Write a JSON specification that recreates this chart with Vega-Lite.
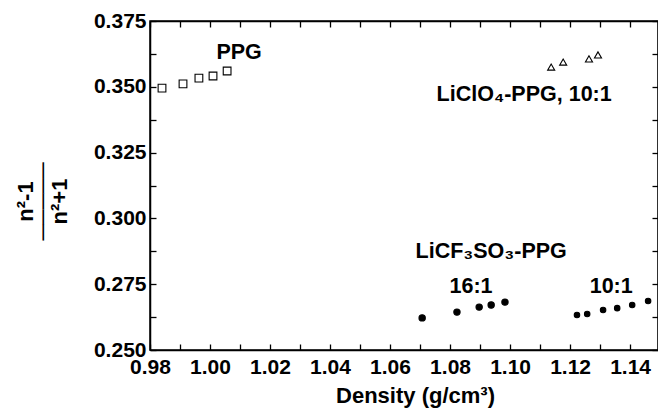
{
  "$schema": "https://vega.github.io/schema/vega-lite/v6.json",
  "width": 508,
  "height": 329,
  "autosize": {"type": "none"},
  "padding": {"left": 150, "top": 21, "right": 0, "bottom": 62},
  "background": "white",
  "config": {
    "font": "Liberation Sans",
    "view": {"stroke": "black", "strokeWidth": 1.5},
    "axis": {
      "labelFont": "Liberation Sans",
      "labelFontSize": 21,
      "labelFontWeight": "bold",
      "labelColor": "black",
      "titleFont": "Liberation Sans",
      "titleFontSize": 22,
      "titleFontWeight": "bold",
      "titleColor": "black",
      "domainColor": "black",
      "domainWidth": 1.5,
      "tickColor": "black",
      "tickWidth": 1.3,
      "tickSize": -6,
      "grid": false,
      "labelOverlap": false,
      "labelFlush": false
    }
  },
  "data": {
    "values": [
      {"series": "PPG", "density": 0.984, "value": 0.3495},
      {"series": "PPG", "density": 0.991, "value": 0.3511},
      {"series": "PPG", "density": 0.9963, "value": 0.3533},
      {"series": "PPG", "density": 1.001, "value": 0.3541},
      {"series": "PPG", "density": 1.0057, "value": 0.356},
      {"series": "LiClO4 10:1", "density": 1.1137, "value": 0.3575},
      {"series": "LiClO4 10:1", "density": 1.1177, "value": 0.3594},
      {"series": "LiClO4 10:1", "density": 1.1263, "value": 0.3606},
      {"series": "LiClO4 10:1", "density": 1.1293, "value": 0.3621},
      {"series": "LiCF3SO3 16:1", "density": 1.0707, "value": 0.2622},
      {"series": "LiCF3SO3 16:1", "density": 1.0823, "value": 0.2644},
      {"series": "LiCF3SO3 16:1", "density": 1.0897, "value": 0.2663},
      {"series": "LiCF3SO3 16:1", "density": 1.0937, "value": 0.2671},
      {"series": "LiCF3SO3 16:1", "density": 1.0983, "value": 0.2682},
      {"series": "LiCF3SO3 10:1", "density": 1.1223, "value": 0.2633},
      {"series": "LiCF3SO3 10:1", "density": 1.1257, "value": 0.2637},
      {"series": "LiCF3SO3 10:1", "density": 1.131, "value": 0.2652},
      {"series": "LiCF3SO3 10:1", "density": 1.1357, "value": 0.2659},
      {"series": "LiCF3SO3 10:1", "density": 1.1407, "value": 0.2671},
      {"series": "LiCF3SO3 10:1", "density": 1.146, "value": 0.2686}
    ]
  },
  "layer": [
    {
      "mark": {"type": "point", "stroke": "black", "strokeWidth": 1.1, "opacity": 1},
      "encoding": {
        "x": {
          "field": "density", "type": "quantitative",
          "scale": {"domain": [0.98, 1.1493], "nice": false, "zero": false},
          "axis": {
            "orient": "bottom",
            "title": "Density (g/cm³)",
            "values": [0.98, 0.99, 1.0, 1.01, 1.02, 1.03, 1.04, 1.05, 1.06, 1.07, 1.08, 1.09, 1.1, 1.11, 1.12, 1.13, 1.14],
            "labelExpr": "round(datum.value*100) % 2 == 0 ? format(datum.value, '.2f') : ''",
            "labelPadding": 12,
            "titlePadding": 8,
            "titleX": 265
          }
        },
        "y": {
          "field": "value", "type": "quantitative",
          "scale": {"domain": [0.25, 0.375], "nice": false, "zero": false},
          "axis": {
            "orient": "left",
            "title": ["n²-1", "─────", "n²+1"],
            "titleLineHeight": 17,
            "titleY": 180,
            "values": [0.25, 0.2625, 0.275, 0.2875, 0.3, 0.3125, 0.325, 0.3375, 0.35, 0.3625, 0.375],
            "labelExpr": "round(datum.value*1000) % 25 == 0 ? format(datum.value, '.3f') : ''",
            "labelPadding": 10,
            "titlePadding": 22
          }
        },
        "shape": {
          "field": "series", "type": "nominal",
          "scale": {"domain": ["PPG", "LiClO4 10:1", "LiCF3SO3 16:1", "LiCF3SO3 10:1"], "range": ["square", "triangle-up", "circle", "circle"]},
          "legend": null
        },
        "fill": {
          "field": "series", "type": "nominal",
          "scale": {"domain": ["PPG", "LiClO4 10:1", "LiCF3SO3 16:1", "LiCF3SO3 10:1"], "range": ["#ffffff", "#ffffff", "#000000", "#000000"]},
          "legend": null
        },
        "size": {
          "field": "series", "type": "nominal",
          "scale": {"domain": ["PPG", "LiClO4 10:1", "LiCF3SO3 16:1", "LiCF3SO3 10:1"], "range": [60, 30, 65, 65]},
          "legend": null
        }
      }
    },
    {
      "data": {
        "values": [
          {"label": "PPG", "density": 1.0097, "value": 0.3628},
          {"label": "LiClO₄-PPG, 10:1", "density": 1.1047, "value": 0.3469},
          {"label": "LiCF₃SO₃-PPG", "density": 1.0937, "value": 0.2872},
          {"label": "16:1", "density": 1.087, "value": 0.2739},
          {"label": "10:1", "density": 1.1337, "value": 0.2739}
        ]
      },
      "mark": {"type": "text", "font": "Liberation Sans", "fontSize": 21.5, "fontWeight": "bold", "color": "black", "align": "center", "baseline": "middle"},
      "encoding": {
        "text": {"field": "label"},
        "x": {
          "field": "density", "type": "quantitative",
          "axis": {
            "orient": "top", "title": null, "labels": false,
            "values": [0.98, 0.99, 1.0, 1.01, 1.02, 1.03, 1.04, 1.05, 1.06, 1.07, 1.08, 1.09, 1.1, 1.11, 1.12, 1.13, 1.14]
          }
        },
        "y": {
          "field": "value", "type": "quantitative",
          "axis": {
            "orient": "right", "title": null, "labels": false,
            "values": [0.25, 0.2625, 0.275, 0.2875, 0.3, 0.3125, 0.325, 0.3375, 0.35, 0.3625, 0.375]
          }
        }
      }
    }
  ],
  "resolve": {"axis": {"x": "independent", "y": "independent"}}
}
